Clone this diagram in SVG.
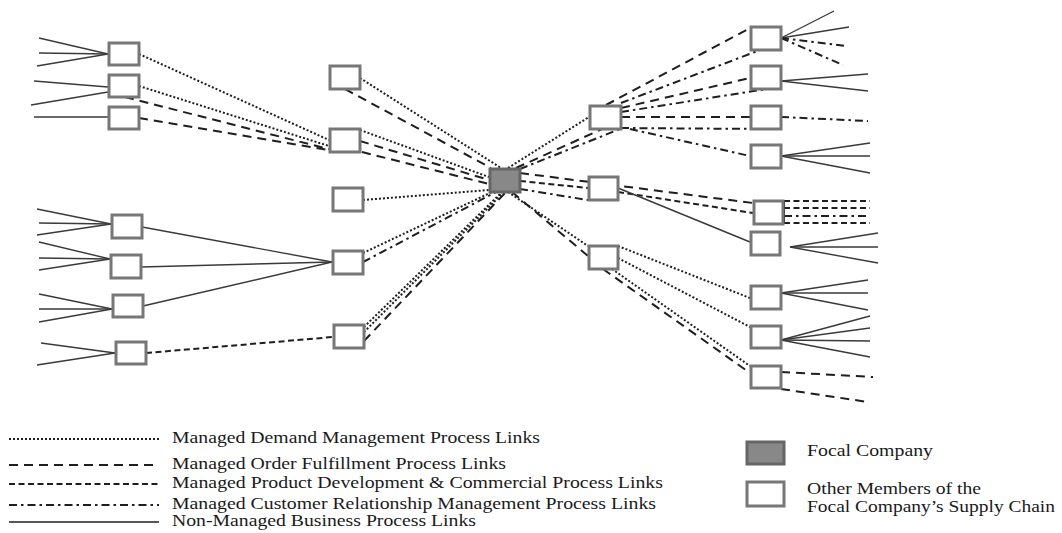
<svg xmlns="http://www.w3.org/2000/svg" width="1062" height="533" viewBox="0 0 1062 533">
  <style>
    .box { fill: #ffffff; stroke: #777777; stroke-width: 3; }
    .focal { fill: #888888; stroke: #666666; stroke-width: 3; }
    .ln { fill: none; stroke: #1e1e1e; stroke-width: 1.7; }
    .solid { stroke: #3a3a3a; stroke-width: 1.4; }
    .dm { stroke-dasharray: 2 2; stroke-width: 2; }
    .of { stroke-dasharray: 9 6; stroke-width: 2; }
    .pd { stroke-dasharray: 6 3.5; stroke-width: 2; }
    .crm { stroke-dasharray: 8 4 2.5 4; stroke-width: 2; }
    .lbl { font-family: "Liberation Serif", "Times New Roman", serif; font-size: 17px; fill: #1a1a1a; }
  </style>

  <!-- links between supply chain members -->
  <g id="connectors" class="ln">
    <!-- left fans into tier-2 suppliers -->
    <g class="solid">
      <line x1="39" y1="38" x2="108" y2="54"/><line x1="39" y1="53" x2="108" y2="54"/><line x1="37" y1="66" x2="108" y2="54"/>
      <line x1="34" y1="81" x2="108" y2="87"/><line x1="31" y1="105" x2="108" y2="92"/>
      <line x1="34" y1="117" x2="108" y2="117"/>
      <line x1="37" y1="209" x2="111" y2="224"/><line x1="39" y1="223" x2="111" y2="224"/><line x1="37" y1="235" x2="111" y2="224"/>
      <line x1="39" y1="242" x2="110" y2="259"/><line x1="39" y1="258" x2="110" y2="259"/><line x1="39" y1="270" x2="110" y2="259"/>
      <line x1="39" y1="294" x2="112" y2="309"/><line x1="39" y1="309" x2="112" y2="309"/><line x1="39" y1="322" x2="112" y2="309"/>
      <line x1="41" y1="343" x2="115" y2="353"/><line x1="37" y1="365" x2="115" y2="353"/>
    </g>

    <!-- tier-2 to tier-1 suppliers -->
    <line class="dm" x1="139" y1="54" x2="329" y2="140"/>
    <line class="dm" x1="139" y1="86" x2="329" y2="146"/>
    <line class="of" x1="125" y1="97" x2="340" y2="152"/>
    <line class="of" x1="139" y1="118" x2="329" y2="150"/>
    <line class="solid" x1="142" y1="227" x2="332" y2="262"/>
    <line class="solid" x1="141" y1="267" x2="332" y2="262"/>
    <line class="solid" x1="143" y1="306" x2="332" y2="262"/>
    <line class="pd" x1="146" y1="353" x2="333" y2="337"/>

    <!-- tier-1 suppliers to focal company -->
    <line class="dm" x1="360" y1="78" x2="501" y2="168"/>
    <line class="of" x1="345" y1="89" x2="491" y2="168"/>
    <line class="dm" x1="360" y1="130" x2="489" y2="177"/>
    <line class="of" x1="360" y1="141" x2="489" y2="180"/>
    <line class="of" x1="362" y1="152" x2="489" y2="184"/>
    <line class="dm" x1="363" y1="200" x2="489" y2="190"/>
    <line class="dm" x1="363" y1="253" x2="492" y2="192"/>
    <line class="crm" x1="363" y1="262" x2="496" y2="192"/>
    <line class="dm" x1="364" y1="327" x2="502" y2="192"/>
    <line class="dm" x1="364" y1="332" x2="504" y2="192"/>
    <line class="of" x1="364" y1="341" x2="506" y2="192"/>

    <!-- focal company to tier-1 customers -->
    <line class="dm" x1="508" y1="168" x2="589" y2="117"/>
    <line class="of" x1="516" y1="168" x2="602" y2="129"/>
    <line class="crm" x1="520" y1="169" x2="620" y2="129"/>
    <line class="of" x1="520" y1="173" x2="753" y2="203"/>
    <line class="pd" x1="520" y1="181" x2="588" y2="188"/>
    <line class="crm" x1="520" y1="189" x2="588" y2="200"/>
    <line class="dm" x1="508" y1="192" x2="588" y2="246"/>
    <line class="of" x1="512" y1="192" x2="588" y2="256"/>

    <!-- tier-1 to tier-2 customers -->
    <line class="of" x1="606" y1="105" x2="750" y2="28"/>
    <line class="crm" x1="621" y1="103" x2="760" y2="50"/>
    <line class="of" x1="621" y1="108" x2="750" y2="78"/>
    <line class="crm" x1="621" y1="112" x2="767" y2="89"/>
    <line class="of" x1="621" y1="117" x2="750" y2="117"/>
    <line class="crm" x1="621" y1="128" x2="767" y2="129"/>
    <line class="crm" x1="630" y1="129" x2="750" y2="156"/>
    <line class="pd" x1="618" y1="192" x2="753" y2="213"/>
    <line class="solid" x1="618" y1="188" x2="750" y2="242"/>
    <line class="dm" x1="618" y1="246" x2="750" y2="298"/>
    <line class="dm" x1="618" y1="258" x2="750" y2="327"/>
    <line class="dm" x1="612" y1="269" x2="750" y2="366"/>
    <line class="of" x1="603" y1="269" x2="750" y2="373"/>

    <!-- right fans out of tier-2 customers -->
    <line class="solid" x1="781" y1="38" x2="834" y2="11"/>
    <line class="solid" x1="781" y1="38" x2="849" y2="27"/>
    <line class="crm" x1="781" y1="38" x2="847" y2="46"/>
    <line class="crm" x1="781" y1="38" x2="843" y2="65"/>
    <line class="solid" x1="781" y1="81" x2="868" y2="74"/>
    <line class="solid" x1="781" y1="81" x2="868" y2="91"/>
    <line class="crm" x1="781" y1="117" x2="868" y2="121"/>
    <line class="solid" x1="781" y1="156" x2="870" y2="143"/>
    <line class="solid" x1="781" y1="156" x2="870" y2="156"/>
    <line class="solid" x1="781" y1="156" x2="870" y2="173"/>
    <line class="pd" x1="784" y1="201" x2="870" y2="201"/>
    <line class="pd" x1="784" y1="208" x2="870" y2="208"/>
    <line class="crm" x1="784" y1="216" x2="870" y2="216"/>
    <line class="pd" x1="784" y1="223" x2="870" y2="223"/>
    <line x1="784" y1="200" x2="784" y2="224" stroke-width="2"/>
    <line class="solid" x1="790" y1="247" x2="878" y2="233"/>
    <line class="solid" x1="790" y1="247" x2="878" y2="247"/>
    <line class="solid" x1="790" y1="247" x2="878" y2="263"/>
    <line class="solid" x1="781" y1="293" x2="868" y2="280"/>
    <line class="solid" x1="781" y1="293" x2="868" y2="293"/>
    <line class="solid" x1="781" y1="293" x2="868" y2="310"/>
    <line class="solid" x1="781" y1="340" x2="870" y2="316"/>
    <line class="solid" x1="781" y1="340" x2="870" y2="328"/>
    <line class="solid" x1="781" y1="340" x2="870" y2="341"/>
    <line class="solid" x1="781" y1="340" x2="870" y2="357"/>
    <line class="of" x1="781" y1="372" x2="873" y2="377"/>
    <line class="of" x1="781" y1="389" x2="868" y2="402"/>
  </g>

  <!-- supply chain members -->
  <g id="L1"><rect class="box" x="109" y="43" width="30" height="22"/></g>
  <g id="L2"><rect class="box" x="109" y="75" width="30" height="22"/></g>
  <g id="L3"><rect class="box" x="109" y="107" width="30" height="22"/></g>
  <g id="L4"><rect class="box" x="112" y="215" width="30" height="23"/></g>
  <g id="L5"><rect class="box" x="111" y="255" width="30" height="23"/></g>
  <g id="L6"><rect class="box" x="113" y="295" width="30" height="22"/></g>
  <g id="L7"><rect class="box" x="116" y="342" width="30" height="22"/></g>
  <g id="M1"><rect class="box" x="330" y="66" width="30" height="23"/></g>
  <g id="M2"><rect class="box" x="330" y="129" width="30" height="23"/></g>
  <g id="M3"><rect class="box" x="333" y="188" width="30" height="23"/></g>
  <g id="M4"><rect class="box" x="333" y="251" width="30" height="23"/></g>
  <g id="M5"><rect class="box" x="334" y="325" width="30" height="23"/></g>
  <g id="focal"><rect class="focal" x="490" y="169" width="30" height="23"/></g>
  <g id="R1"><rect class="box" x="590" y="106" width="31" height="23"/></g>
  <g id="R2"><rect class="box" x="589" y="177" width="29" height="23"/></g>
  <g id="R3"><rect class="box" x="589" y="246" width="29" height="23"/></g>
  <g id="RA"><rect class="box" x="751" y="27" width="30" height="23"/></g>
  <g id="RB"><rect class="box" x="751" y="66" width="30" height="23"/></g>
  <g id="RC"><rect class="box" x="751" y="106" width="30" height="23"/></g>
  <g id="RD"><rect class="box" x="751" y="145" width="30" height="23"/></g>
  <g id="RE"><rect class="box" x="754" y="201" width="29" height="23"/></g>
  <g id="RF"><rect class="box" x="751" y="232" width="29" height="23"/></g>
  <g id="RG"><rect class="box" x="751" y="286" width="30" height="23"/></g>
  <g id="RH"><rect class="box" x="751" y="326" width="30" height="22"/></g>
  <g id="RI"><rect class="box" x="751" y="366" width="30" height="22"/></g>

  <!-- legend: link types -->
  <g id="legend-links">
    <line class="ln dm" x1="9" y1="439" x2="159" y2="439" stroke-width="1.6"/>
    <text class="lbl" x="172" y="443" textLength="368" lengthAdjust="spacingAndGlyphs">Managed Demand Management Process Links</text>
    <line class="ln of" x1="9" y1="465" x2="159" y2="465" stroke-width="2.4"/>
    <text class="lbl" x="172" y="469" textLength="334" lengthAdjust="spacingAndGlyphs">Managed Order Fulfillment  Process Links</text>
    <line class="ln pd" x1="9" y1="484" x2="159" y2="484" stroke-width="2.2"/>
    <text class="lbl" x="172" y="488" textLength="491" lengthAdjust="spacingAndGlyphs">Managed Product Development &amp; Commercial Process Links</text>
    <line class="ln crm" x1="9" y1="505" x2="159" y2="505" stroke-width="2.2"/>
    <text class="lbl" x="172" y="509" textLength="484" lengthAdjust="spacingAndGlyphs">Managed Customer Relationship Management Process Links</text>
    <line class="ln" x1="9" y1="522" x2="159" y2="522" stroke-width="2.4"/>
    <text class="lbl" x="172" y="526" textLength="304" lengthAdjust="spacingAndGlyphs">Non-Managed Business Process Links</text>
  </g>

  <!-- legend: member types -->
  <g id="legend-members">
    <rect class="focal" x="747" y="442" width="37" height="22"/>
    <text class="lbl" x="807" y="456" textLength="126" lengthAdjust="spacingAndGlyphs">Focal Company</text>
    <rect class="box" x="747" y="482" width="37" height="24"/>
    <text class="lbl" x="807" y="494" textLength="174" lengthAdjust="spacingAndGlyphs">Other Members of the</text>
    <text class="lbl" x="807" y="512" textLength="248" lengthAdjust="spacingAndGlyphs">Focal Company’s Supply Chain</text>
  </g>
</svg>
